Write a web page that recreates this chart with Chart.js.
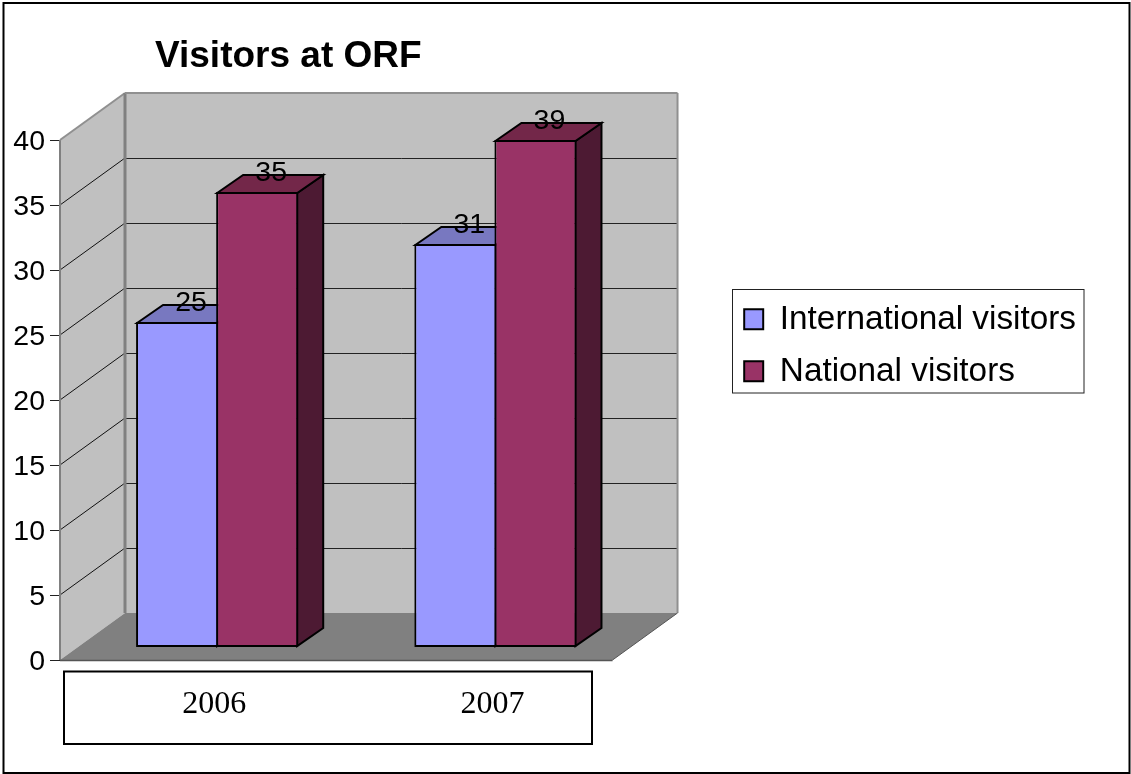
<!DOCTYPE html>
<html>
<head>
<meta charset="utf-8">
<style>html,body{margin:0;padding:0;background:#fff}canvas{display:block}</style>
<script src="https://cdn.jsdelivr.net/npm/chart.js@4"></script>
</head>
<body>
<canvas id="c" width="1131" height="774"></canvas>
<script>
const categories = ['2006', '2007'];
const internationalVisitors = [25, 31];
const nationalVisitors = [35, 39];
const seriesNames = ['International visitors', 'National visitors'];
const yTickStep = 5;
const yMax = 40;

const sans = '"Liberation Sans", Arial, sans-serif';
const serif = '"Liberation Serif", "Times New Roman", serif';

const chartLook = {
  id: 'chartLook',
  beforeLayout(chart) {
    // let the legend keep its full text width instead of the default quarter-chart cap
    const lg = chart.legend;
    if (!lg._wide) {
      const u = lg.update;
      lg.update = function (w, h, m) { return u.call(this, 420, h, m); };
      lg._wide = true;
    }
  },
  afterLayout(chart) {
    chart.titleBlock.left = 155;
    chart.legend.left = 725.5;
    chart.legend.right = 1131;
    chart.legend.top = 284;
  },
  beforeDraw(chart) {
    const c = chart.ctx;
    c.save();
    c.fillStyle = '#fff';
    c.fillRect(0, 0, chart.width, chart.height);
    c.strokeStyle = '#000';
    c.lineWidth = 2;
    c.strokeRect(3.5, 3, 1126, 770);
    c.strokeRect(64, 671.5, 528, 72.5);
    c.lineWidth = 1;
    c.strokeStyle = '#222';
    c.strokeRect(732.5, 289.5, 351.5, 103.5);
    c.restore();
  },
  beforeDatasetsDraw(chart) {
    const c = chart.ctx, x = chart.scales.x, y = chart.scales.y;
    const xL = x.left, xR = x.right - 4, y0 = y.getPixelForValue(0), yT = y.getPixelForValue(yMax);
    const poly = (pts, fill, stroke, lw) => {
      c.beginPath();
      pts.forEach((p, i) => i ? c.lineTo(p[0], p[1]) : c.moveTo(p[0], p[1]));
      c.closePath();
      if (fill) { c.fillStyle = fill; c.fill(); }
      if (stroke) { c.strokeStyle = stroke; c.lineWidth = lw; c.lineJoin = 'miter'; c.stroke(); }
    };
    const seg = (a, b, d, col, lw) => {
      c.beginPath(); c.moveTo(a, b); c.lineTo(d[0], d[1]);
      c.strokeStyle = col; c.lineWidth = lw; c.stroke();
    };
    const fx = xL - 18, fy = 13, bx = xL + 47, by = -34, rf = xR - 18, rb = xR + 47;
    c.save();
    // back wall and side wall
    poly([[bx, yT + by], [rb, yT + by], [rb, y0 + by], [bx, y0 + by]], '#c0c0c0');
    poly([[fx, yT + fy], [bx, yT + by], [bx, y0 + by], [fx, y0 + fy]], '#c0c0c0');
    // floor
    poly([[fx, y0 + fy], [bx, y0 + by], [rb, y0 + by], [rf, y0 + fy]], '#808080');
    // gridlines and tick marks from the value scale
    y.ticks.forEach(t => {
      const p = y.getPixelForValue(t.value);
      if (t.value !== 0 && t.value !== yMax) {
        seg(bx, p + by + .5, [rb, p + by + .5], '#222', 1);
        seg(fx, p + fy, [bx, p + by], '#111', 1);
      }
      seg(fx - 10, p + fy + .5, [fx, p + fy + .5], '#222', 1);
    });
    // wall edges
    seg(fx, yT + fy, [fx, y0 + fy], '#808080', 2);
    seg(fx, yT + fy, [bx, yT + by], '#909090', 2);
    seg(bx, yT + by, [bx, y0 + by], '#808080', 3);
    seg(bx, yT + by, [rb, yT + by], '#909090', 2);
    seg(rb, yT + by, [rb, y0 + by], '#909090', 2);
    seg(rb, y0 + by, [rf, y0 + fy], '#555', 1);
    seg(fx, y0 + fy + .5, [rf, y0 + fy + .5], '#555', 1.5);
    // top and side faces of the bars
    const tops = ['#7878c0', '#732749'], sides = ['#4d4d80', '#4d1a33'];
    const dx = 26, dy = -18;
    chart.data.datasets.forEach((ds, i) => {
      chart.getDatasetMeta(i).data.forEach(el => {
        const l = el.x - el.width / 2 + 1, r = el.x + el.width / 2 - 1, t = el.y + 1, b = el.base - 1;
        poly([[r, t], [r + dx, t + dy], [r + dx, b + dy], [r, b]], sides[i], '#000', 2);
        poly([[l, t], [l + dx, t + dy], [r + dx, t + dy], [r, t]], tops[i], '#000', 2);
      });
    });
    c.restore();
  },
  afterDatasetsDraw(chart) {
    const c = chart.ctx;
    c.save();
    c.font = '28.5px ' + sans;
    c.fillStyle = '#000';
    c.textAlign = 'center';
    c.textBaseline = 'middle';
    chart.data.datasets.forEach((ds, i) => {
      chart.getDatasetMeta(i).data.forEach((el, j) => {
        c.fillText(String(ds.data[j]), el.x + 14, el.y - 19);
      });
    });
    c.restore();
  }
};

new Chart(document.getElementById('c'), {
  type: 'bar',
  data: {
    labels: categories,
    datasets: [
      { label: seriesNames[0], data: internationalVisitors, backgroundColor: '#9999ff', borderColor: '#000', borderWidth: 2, borderSkipped: false },
      { label: seriesNames[1], data: nationalVisitors, backgroundColor: '#993366', borderColor: '#000', borderWidth: 2, borderSkipped: false }
    ]
  },
  options: {
    responsive: false,
    animation: false,
    layout: { padding: { left: 0, right: 136, top: 0, bottom: 0 } },
    datasets: { bar: { categoryPercentage: 0.5755, barPercentage: 1.025 } },
    scales: {
      x: {
        grid: { display: false, drawTicks: false },
        border: { display: false },
        ticks: { color: '#000', font: { family: serif, size: 32 }, padding: 38, labelOffset: -3, maxRotation: 0 },
        afterFit(s) { s.height = 127; }
      },
      y: {
        min: 0, max: yMax,
        grid: { display: false, drawTicks: false },
        border: { display: false },
        ticks: { stepSize: yTickStep, color: '#000', font: { family: sans, size: 28.5 }, padding: 33, labelOffset: 15 },
        afterFit(s) { s.width = 78; }
      }
    },
    plugins: {
      title: {
        display: true,
        text: 'Visitors at ORF',
        align: 'start',
        color: '#000',
        font: { family: sans, size: 37, weight: 'bold', lineHeight: 1.2 },
        padding: { top: 35, bottom: 47.6 }
      },
      legend: {
        position: 'right',
        align: 'start',
        labels: { boxWidth: 19, boxHeight: 20, padding: 18.7, color: '#000', font: { family: sans, size: 33.3 } }
      },
      tooltip: { enabled: false }
    }
  },
  plugins: [chartLook]
});
</script>
</body>
</html>
